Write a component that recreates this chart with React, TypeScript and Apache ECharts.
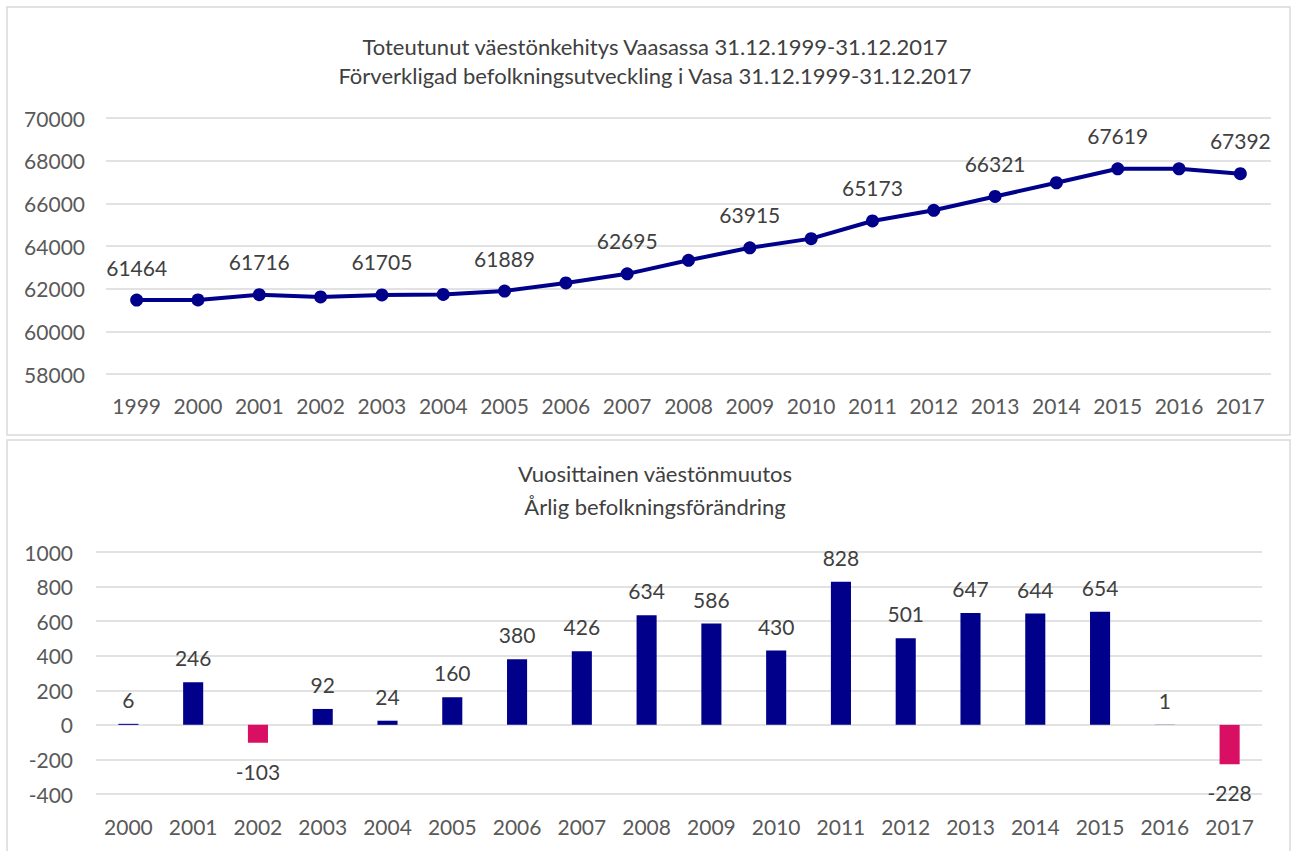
import React, { useEffect, useRef } from "react";
import * as echarts from "echarts";

const years = ["1999","2000","2001","2002","2003","2004","2005","2006","2007","2008","2009","2010","2011","2012","2013","2014","2015","2016","2017"];
const population = [61464,61470,61716,61613,61705,61729,61889,62269,62695,63329,63915,64345,65173,65674,66321,66965,67619,67620,67392];
const changeYears = ["2000","2001","2002","2003","2004","2005","2006","2007","2008","2009","2010","2011","2012","2013","2014","2015","2016","2017"];
const changes = [6,246,-103,92,24,160,380,426,634,586,430,828,501,647,644,654,1,-228];

const title1a = "Toteutunut väestönkehitys Vaasassa 31.12.1999-31.12.2017";
const title1b = "Förverkligad befolkningsutveckling i Vasa 31.12.1999-31.12.2017";
const title2a = "Vuosittainen väestönmuutos";
const title2b = "Årlig befolkningsförändring";

const NAVY = "#00008B";
const PINK = "#D80F62";
const FONT = "Lato, 'Open Sans', sans-serif";

export default function App() {
  const ref = useRef<HTMLDivElement>(null);
  useEffect(() => {
    const chart = echarts.init(ref.current!, null, { renderer: "svg" });
    const axisLabel = { color: "#595959", fontSize: 21, fontFamily: FONT, formatter: (v: any) => String(v) };
    chart.setOption({
      animation: false,
      backgroundColor: "#fff",
      textStyle: { fontFamily: FONT },
      title: [
        {
          text: title1a + "\n" + title1b,
          left: 650, top: 27, textAlign: "center",
          textStyle: { color: "#404040", fontSize: 22, fontWeight: "normal", lineHeight: 29, fontFamily: FONT },
        },
        {
          text: title2a + "\n" + title2b,
          left: 650, top: 452, textAlign: "center",
          textStyle: { color: "#404040", fontSize: 22, fontWeight: "normal", lineHeight: 33, fontFamily: FONT },
        },
      ],
      graphic: [
        { type: "rect", shape: { x: 7, y: 7, width: 1283, height: 428 }, style: { fill: "none", stroke: "#d9d9d9", lineWidth: 1.5 }, silent: true },
        { type: "rect", shape: { x: 7, y: 440, width: 1283, height: 420 }, style: { fill: "none", stroke: "#d9d9d9", lineWidth: 1.5 }, silent: true },
      ],
      grid: [
        { left: 106, right: 20, top: 118, height: 256 },
        { left: 96, right: 29, top: 552, height: 242 },
      ],
      xAxis: [
        {
          gridIndex: 0, type: "category", data: years, boundaryGap: true,
          axisLine: { show: false }, axisTick: { show: false },
          axisLabel: { ...axisLabel, margin: 21, interval: 0 },
        },
        {
          gridIndex: 1, type: "category", data: changeYears, boundaryGap: true,
          axisLine: { show: false }, axisTick: { show: false },
          axisLabel: { ...axisLabel, margin: 22, interval: 0 },
        },
      ],
      yAxis: [
        {
          gridIndex: 0, type: "value", min: 58000, max: 70000, interval: 2000,
          axisLine: { show: false }, axisTick: { show: false },
          axisLabel: { ...axisLabel, margin: 21 },
          splitLine: { lineStyle: { color: "#d9d9d9", width: 1.5 } },
        },
        {
          gridIndex: 1, type: "value", min: -400, max: 1000, interval: 200,
          axisLine: { show: false }, axisTick: { show: false },
          axisLabel: { ...axisLabel, margin: 23 },
          splitLine: { lineStyle: { color: "#d9d9d9", width: 1.5 } },
        },
      ],
      series: [
        {
          type: "line", xAxisIndex: 0, yAxisIndex: 0,
          data: population,
          symbol: "circle", symbolSize: 13,
          lineStyle: { color: NAVY, width: 4 },
          itemStyle: { color: NAVY },
          label: {
            show: true, position: "top", distance: 16,
            color: "#404040", fontSize: 21, fontFamily: FONT,
            formatter: (p: any) => (p.dataIndex % 2 === 0 ? String(p.value) : ""),
          },
        },
        {
          type: "bar", xAxisIndex: 1, yAxisIndex: 1,
          barWidth: "31%",
          data: changes.map((v) => ({
            value: v,
            itemStyle: { color: v < 0 ? PINK : NAVY },
            label: { position: v < 0 ? "bottom" : "top", distance: v < 0 ? 18 : 14 },
          })),
          label: {
            show: true, distance: 14,
            color: "#404040", fontSize: 21, fontFamily: FONT,
          },
        },
      ],
    });
    return () => chart.dispose();
  }, []);
  return (
    <div
      ref={ref}
      style={{ position: "fixed", left: 0, top: 0, width: 1291, height: 851, background: "#fff" }}
    />
  );
}
